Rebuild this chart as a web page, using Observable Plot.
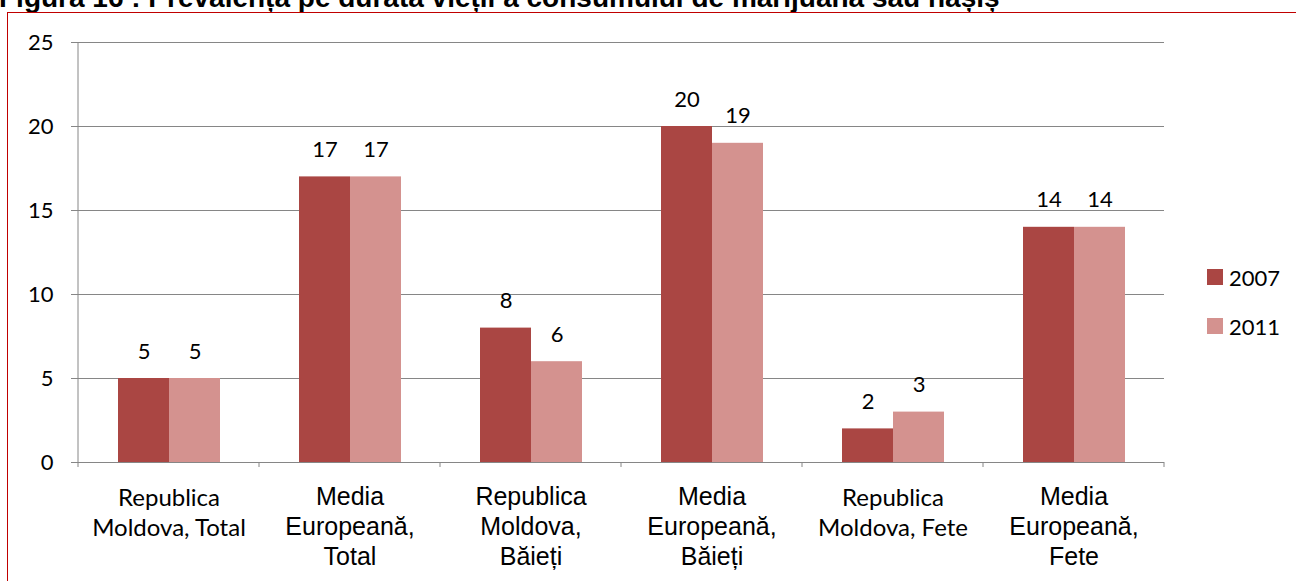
<!DOCTYPE html>
<html><head><meta charset="utf-8">
<script src="https://cdn.jsdelivr.net/npm/d3@7"></script>
<script src="https://cdn.jsdelivr.net/npm/@observablehq/plot@0.6"></script>
<style>
html,body{margin:0;padding:0;background:#fff;overflow:hidden;width:1296px;height:581px;}
#wrap{position:relative;width:1296px;height:581px;overflow:hidden;}
#title{position:absolute;left:-1px;top:-16px;font:bold 28px/28px "Liberation Sans",Arial,sans-serif;white-space:nowrap;color:#000;}
#frame{position:absolute;left:7px;top:12px;width:1400px;height:700px;border-left:1.5px solid #c00000;border-top:1.5px solid #c00000;}
#chart{position:absolute;left:0;top:0;}
#legend{position:absolute;left:1207px;top:264px;font:22px Lato,sans-serif;color:#000;}
.li{display:flex;align-items:center;height:26px;margin-bottom:23px;}
.sw{width:16px;height:16px;margin-right:6px;}
</style></head>
<body>
<div id="wrap">
  <div id="title"></div>
  <div id="frame"></div>
  <div id="chart"></div>
  <div id="legend"></div>
</div>
<script>
const titleText = "Figura 16 : Prevalența pe durata vieții a consumului de marijuana sau hașiș";
const categories = ["Republica Moldova, Total","Media Europeană, Total","Republica Moldova, Băieți","Media Europeană, Băieți","Republica Moldova, Fete","Media Europeană, Fete"];
const categoryLines = [["Republica","Moldova, Total"],["Media","Europeană,","Total"],["Republica","Moldova,","Băieți"],["Media","Europeană,","Băieți"],["Republica","Moldova, Fete"],["Media","Europeană,","Fete"]];
const narrowFontCats = ["Republica Moldova, Total","Republica Moldova, Fete"];
const years = ["2007","2011"];
const values2007 = [5,17,8,20,2,14];
const values2011 = [5,17,6,19,3,14];
const yTicks = [0,5,10,15,20,25];
const colors = ["#AA4643","#D4928F"];

document.getElementById("title").textContent = titleText;

const rows = categories.flatMap((c,i)=>[
  {cat:c, year:years[0], value:values2007[i]},
  {cat:c, year:years[1], value:values2011[i]}
]);
const labels = categories.map((c,i)=>({cat:c, label:categoryLines[i].join("\n")}));

const chart = Plot.plot({
  width:1296, height:581,
  marginLeft:78, marginRight:132, marginTop:42, marginBottom:119,
  style:{fontFamily:"Lato, sans-serif", fontSize:"20px", color:"#000", background:"transparent"},
  fx:{domain:categories, padding:0, axis:null},
  x:{domain:years, paddingInner:0, paddingOuter:0.757, axis:null},
  y:{domain:[0,25], axis:null},
  color:{domain:years, range:colors},
  marks:[
    Plot.gridY(yTicks, {stroke:"#868686", strokeOpacity:1, strokeWidth:1}),
    Plot.axisY(yTicks, {tickSize:7, tickPadding:18, stroke:"#868686", fill:"#000", fontSize:22, label:null, fontFamily:"Lato, sans-serif"}),
    Plot.barY(rows, {fx:"cat", x:"year", y:"value", fill:"year"}),
    Plot.text(rows, {fx:"cat", x:"year", y:"value", text:d=>String(d.value), dy:-27, fontSize:22, fill:"#000"}),
    Plot.text(labels.filter(d=>!narrowFontCats.includes(d.cat)), {fx:"cat", text:"label", frameAnchor:"bottom", lineAnchor:"top", dy:21, fontSize:25, lineHeight:1.2, fontFamily:"Liberation Sans, Arial, sans-serif", fill:"#000"}),
    Plot.text(labels.filter(d=>narrowFontCats.includes(d.cat)), {fx:"cat", text:"label", frameAnchor:"bottom", lineAnchor:"top", dy:22, fontSize:24, lineHeight:1.25, fontFamily:"Lato, sans-serif", fill:"#000"})
  ]
});
document.getElementById("chart").appendChild(chart);

// axis line and category boundary ticks, positioned from the plot's own scales
const fx = chart.scale("fx"), y = chart.scale("y");
const svg = d3.select(chart);
const y0 = y.apply(0), yTop = y.apply(yTicks[yTicks.length-1]);
const bounds = categories.map(c=>fx.apply(c)).concat([fx.apply(categories[categories.length-1]) + fx.bandwidth]);
const g = svg.append("g").attr("stroke","#868686").attr("stroke-width",1);
g.append("line").attr("x1",bounds[0]).attr("x2",bounds[0]).attr("y1",yTop).attr("y2",y0+5);
bounds.slice(1).forEach(b=>g.append("line").attr("x1",b).attr("x2",b).attr("y1",y0).attr("y2",y0+5));

// legend
const leg = d3.select("#legend");
years.forEach((yr,i)=>{
  const item = leg.append("div").attr("class","li");
  item.append("div").attr("class","sw").style("background",colors[i]);
  item.append("span").text(yr);
});
</script>
</body></html>
